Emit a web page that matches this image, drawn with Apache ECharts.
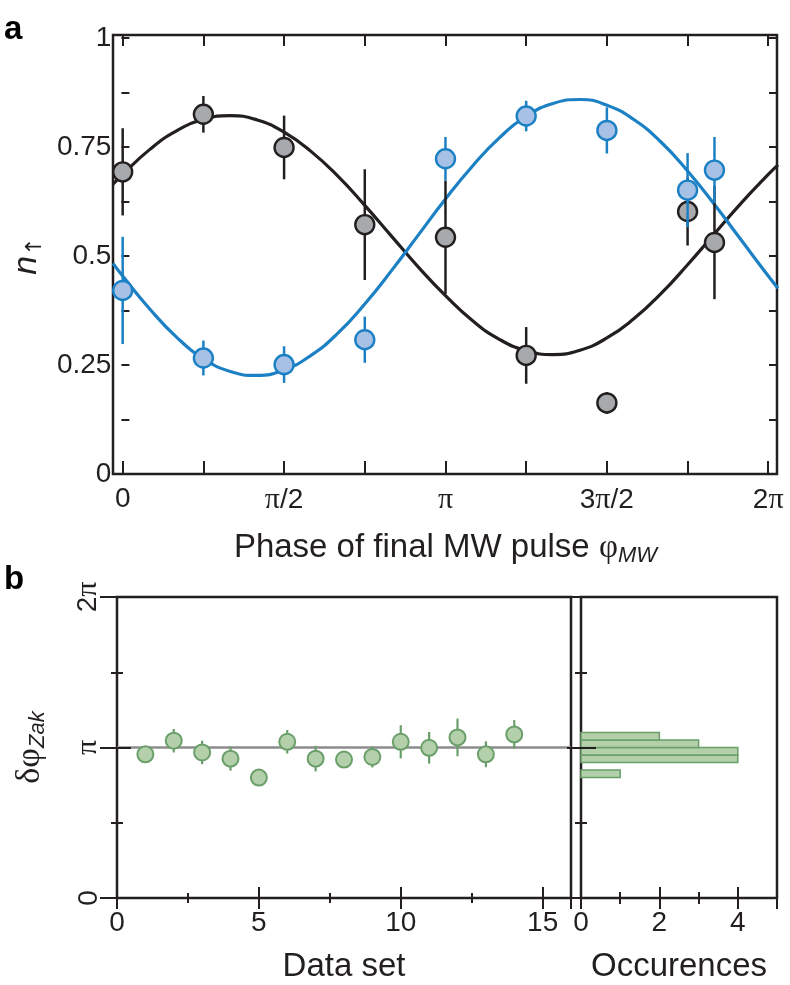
<!DOCTYPE html>
<html>
<head>
<meta charset="utf-8">
<script src="https://cdn.jsdelivr.net/npm/echarts@6.0.0/dist/echarts.min.js"></script>
<style>
  html, body { margin: 0; padding: 0; background: #ffffff; }
  #chart { width: 790px; height: 985px; }
</style>
</head>
<body>
<div id="chart"></div>
<script>
// ---------- Panel a data (phase in units of π) ----------
const phaseA = [0, 0.25, 0.5, 0.75, 1, 1.25, 1.5, 1.75, 1.8333];
const nBlack = [0.693, 0.825, 0.749, 0.572, 0.543, 0.272, 0.163, 0.602, 0.531];
const nBlackErr = [0.100, 0.042, 0.073, 0.127, 0.130, 0.065, 0.025, 0.078, 0.130];
const nBlue = [0.421, 0.266, 0.251, 0.308, 0.723, 0.821, 0.788, 0.651, 0.697];
const nBlueErr = [0.123, 0.040, 0.042, 0.053, 0.050, 0.035, 0.053, 0.085, 0.076];

// fit curves (phase in units of π)
const fitPhase = [-0.03, 0, 0.0833, 0.1667, 0.25, 0.3333, 0.4167, 0.5, 0.5833, 0.6667, 0.75, 0.8333, 0.9167,
  1.0, 1.0833, 1.1667, 1.25, 1.3333, 1.4167, 1.5, 1.5833, 1.6667, 1.75, 1.8333, 1.9167, 2.0, 2.03];
const fitBlack = [0.665, 0.687, 0.744, 0.787, 0.813, 0.822, 0.812, 0.784, 0.740, 0.683, 0.616, 0.545, 0.474,
  0.409, 0.352, 0.309, 0.283, 0.274, 0.284, 0.312, 0.356, 0.413, 0.480, 0.551, 0.622, 0.687, 0.709];
const fitBlue = [0.483, 0.454, 0.379, 0.314, 0.265, 0.235, 0.226, 0.239, 0.272, 0.323, 0.390, 0.467, 0.549,
  0.631, 0.706, 0.771, 0.820, 0.850, 0.859, 0.846, 0.813, 0.762, 0.695, 0.618, 0.536, 0.454, 0.426];

const xTicksA = [0, 0.5, 1, 1.5, 2];
const xTickTextA = ['0', 'π/2', 'π', '3π/2', '2π'];
const yTicksA = [0, 0.25, 0.5, 0.75, 1];
const yTickTextA = ['0', '0.25', '0.5', '0.75', '1'];

// ---------- Panel b data (phase in units of π) ----------
const dataSetIdx = [1, 2, 3, 4, 5, 6, 7, 8, 9, 10, 11, 12, 13, 14];
const zakPhase = [0.955, 1.045, 0.967, 0.926, 0.800, 1.038, 0.926, 0.920, 0.937, 1.038, 0.998, 1.067, 0.955, 1.087];
const zakErr = [0.030, 0.078, 0.078, 0.080, 0.040, 0.078, 0.085, 0.035, 0.070, 0.110, 0.105, 0.125, 0.086, 0.095];
const zakRef = 1; // π

const histBinLo = [0.80, 0.85, 0.90, 0.95, 1.00, 1.05];
const histBinHi = [0.85, 0.90, 0.95, 1.00, 1.05, 1.10];
const histCount = [1, 0, 4, 4, 3, 2];

const xTicksB = [0, 5, 10, 15];
const xTicksHist = [0, 2, 4];
const yTicksB = [0, 1, 2];
const yTickTextB = ['0', 'π', '2π'];

// ---------- styling ----------
const INK = '#231f20';
const BLUE = '#1b80c4';
const SANS = '"Liberation Sans", Arial, Helvetica, sans-serif';
const SERIF = '"Liberation Serif", "Times New Roman", serif';
const GREEN_FILL = '#b3d0ab';
const GREEN_LINE = '#6a9f6a';

function piRich(s) { return s.replace(/π/g, '{p|π}'); }
function labelFrom(ticks, texts) {
  return function (v) {
    for (let i = 0; i < ticks.length; i++) {
      if (Math.abs(v - ticks[i]) < 1e-6) return piRich(texts[i]);
    }
    return '';
  };
}
const tickLabelStyle = {
  color: INK, fontFamily: SANS, fontSize: 28,
  rich: { p: { fontFamily: SERIF, fontSize: 30, color: INK } }
};

function errRender(color, w) {
  return function (params, api) {
    const x = api.value(0), y = api.value(1), e = api.value(2);
    const p1 = api.coord([x, y + e]);
    const p2 = api.coord([x, y - e]);
    return { type: 'line', shape: { x1: p1[0], y1: p1[1], x2: p2[0], y2: p2[1] },
      style: { stroke: color, lineWidth: w } };
  };
}

const tickLine = { color: INK, width: 2 };

const option = {
  animation: false,
  backgroundColor: '#ffffff',
  grid: [
    { left: 113, right: 13, top: 35, bottom: 511, show: true, borderColor: INK, borderWidth: 2.5, backgroundColor: 'transparent' },
    { left: 122.7, right: 21.8, top: 35, bottom: 511 },
    { left: 113, right: 13, top: 38, bottom: 511 },
    { left: 117, right: 219, top: 597, bottom: 87, show: true, borderColor: INK, borderWidth: 2.5, backgroundColor: 'transparent' },
    { left: 581, right: 13, top: 597, bottom: 87, show: true, borderColor: INK, borderWidth: 2.5, backgroundColor: 'transparent' }
  ],
  xAxis: [
    { gridIndex: 0, type: 'value', min: -0.030, max: 2.027, show: false },
    { gridIndex: 1, type: 'value', position: 'bottom', min: 0, max: 2, interval: 0.25, z: 5,
      axisLine: { show: false }, splitLine: { show: false },
      axisTick: { show: true, inside: true, length: 13, lineStyle: tickLine },
      axisLabel: Object.assign({ margin: 11, formatter: labelFrom(xTicksA, xTickTextA) }, tickLabelStyle),
      name: 'Phase of final MW pulse {phi|φ}{sub|MW}', nameLocation: 'middle', nameGap: 55,
      nameTextStyle: { color: INK, fontFamily: SANS, fontSize: 33, lineHeight: 38,
        rich: { phi: { fontFamily: SERIF, fontSize: 33, lineHeight: 38, color: INK },
                sub: { fontFamily: SANS, fontSize: 22, fontStyle: 'italic', lineHeight: 18, verticalAlign: 'bottom', color: INK } } } },
    { gridIndex: 1, type: 'value', position: 'top', min: 0, max: 2, interval: 0.25, z: 5,
      axisLine: { show: false }, splitLine: { show: false },
      axisTick: { show: true, inside: true, length: 11, lineStyle: tickLine },
      axisLabel: { show: false } },
    { gridIndex: 2, type: 'value', min: 0, max: 2, show: false },
    { gridIndex: 3, type: 'value', position: 'bottom', min: 0, max: 16, interval: 5, z: 5,
      axisLine: { show: false }, splitLine: { show: false },
      axisTick: { show: true, inside: true, length: 11, lineStyle: tickLine },
      minorTick: { show: true, splitNumber: 2, length: 5, lineStyle: tickLine },
      axisLabel: Object.assign({ margin: 11, formatter: labelFrom(xTicksB, xTicksB.map(String)) }, tickLabelStyle),
      name: 'Data set', nameLocation: 'middle', nameGap: 52,
      nameTextStyle: { color: INK, fontFamily: SANS, fontSize: 33 } },
    { gridIndex: 3, type: 'value', position: 'top', min: 0, max: 16, interval: 5, z: 5,
      axisLine: { show: false }, splitLine: { show: false },
      axisTick: { show: true, inside: true, length: 11, lineStyle: tickLine },
      minorTick: { show: true, splitNumber: 2, length: 5, lineStyle: tickLine },
      axisLabel: { show: false } },
    { gridIndex: 4, type: 'value', position: 'bottom', min: 0, max: 5, interval: 2, z: 5,
      axisLine: { show: false }, splitLine: { show: false },
      axisTick: { show: true, inside: true, length: 11, lineStyle: tickLine },
      minorTick: { show: true, splitNumber: 2, length: 6, lineStyle: tickLine },
      axisLabel: Object.assign({ margin: 11, formatter: labelFrom(xTicksHist, xTicksHist.map(String)) }, tickLabelStyle),
      name: 'Occurences', nameLocation: 'middle', nameGap: 52,
      nameTextStyle: { color: INK, fontFamily: SANS, fontSize: 33 } },
    { gridIndex: 4, type: 'value', position: 'top', min: 0, max: 5, interval: 2, z: 5,
      axisLine: { show: false }, splitLine: { show: false },
      axisTick: { show: true, inside: true, length: 11, lineStyle: tickLine },
      minorTick: { show: true, splitNumber: 2, length: 6, lineStyle: tickLine },
      axisLabel: { show: false } }
  ],
  yAxis: [
    { gridIndex: 0, type: 'value', min: 0, max: 1.0069, show: false },
    { gridIndex: 1, type: 'value', min: 0, max: 1, show: false },
    { gridIndex: 2, type: 'value', position: 'left', min: 0, max: 1, interval: 0.125, z: 5,
      axisLine: { show: false }, splitLine: { show: false },
      axisTick: { show: true, inside: true, length: 8, lineStyle: tickLine },
      axisLabel: Object.assign({ margin: 10, formatter: labelFrom(yTicksA, yTickTextA) }, tickLabelStyle),
      name: '{n|n}{s|↑}', nameLocation: 'middle', nameRotate: 90, nameGap: 60,
      nameTextStyle: { color: INK, fontFamily: SANS, fontSize: 32, lineHeight: 38,
        rich: { n: { fontFamily: SANS, fontStyle: 'italic', fontSize: 34, lineHeight: 38, color: INK },
                s: { fontFamily: '"DejaVu Sans", sans-serif', fontSize: 22, lineHeight: 20, verticalAlign: 'bottom', color: INK } } } },
    { gridIndex: 2, type: 'value', position: 'right', min: 0, max: 1, interval: 0.125, z: 5,
      axisLine: { show: false }, splitLine: { show: false },
      axisTick: { show: true, inside: true, length: 8, lineStyle: tickLine },
      axisLabel: { show: false } },
    { gridIndex: 3, type: 'value', position: 'left', min: 0, max: 2, interval: 1, z: 5,
      axisLine: { show: false }, splitLine: { show: false },
      axisTick: { show: true, inside: true, length: 14, lineStyle: tickLine },
      minorTick: { show: true, splitNumber: 2, length: 6, lineStyle: tickLine },
      axisLabel: Object.assign({ margin: 14, rotate: 90, formatter: labelFrom(yTicksB, yTickTextB) }, tickLabelStyle),
      name: '{d|δφ}{s|Zak}', nameLocation: 'middle', nameRotate: 90, nameGap: 68,
      nameTextStyle: { color: INK, fontFamily: SANS, fontSize: 32, lineHeight: 38,
        rich: { d: { fontFamily: SERIF, fontSize: 34, lineHeight: 38, color: INK },
                s: { fontFamily: SANS, fontStyle: 'italic', fontSize: 22, lineHeight: 18, verticalAlign: 'bottom', color: INK } } } },
    { gridIndex: 3, type: 'value', position: 'right', min: 0, max: 2, interval: 1, z: 5,
      axisLine: { show: false }, splitLine: { show: false },
      axisTick: { show: true, inside: true, length: 17, lineStyle: tickLine },
      minorTick: { show: true, splitNumber: 2, length: 6, lineStyle: tickLine },
      axisLabel: { show: false } },
    { gridIndex: 4, type: 'value', position: 'left', min: 0, max: 2, interval: 1, z: 5,
      axisLine: { show: false }, splitLine: { show: false },
      axisTick: { show: true, inside: true, length: 15, lineStyle: tickLine },
      minorTick: { show: true, splitNumber: 2, length: 6, lineStyle: tickLine },
      axisLabel: { show: false } },
    { gridIndex: 4, type: 'value', position: 'right', min: 0, max: 2, interval: 1, z: 5,
      axisLine: { show: false }, splitLine: { show: false },
      axisTick: { show: true, inside: true, length: 14, lineStyle: tickLine },
      minorTick: { show: true, splitNumber: 2, length: 6, lineStyle: tickLine },
      axisLabel: { show: false } }
  ],
  graphic: [
    { type: 'text', left: 4, top: 13, style: { text: 'a', fontFamily: SANS, fontWeight: 'bold', fontSize: 33, fill: '#000' } },
    { type: 'text', left: 4, top: 563, style: { text: 'b', fontFamily: SANS, fontWeight: 'bold', fontSize: 33, fill: '#000' } }
  ],
  series: [
    { type: 'line', name: 'fit black', xAxisIndex: 0, yAxisIndex: 0, smooth: true, showSymbol: false, z: 2,
      data: fitPhase.map((x, i) => [x, fitBlack[i]]), lineStyle: { color: INK, width: 3.2 }, silent: true },
    { type: 'line', name: 'fit blue', xAxisIndex: 0, yAxisIndex: 0, smooth: true, showSymbol: false, z: 3,
      data: fitPhase.map((x, i) => [x, fitBlue[i]]), lineStyle: { color: BLUE, width: 3.2 }, silent: true },
    { type: 'custom', name: 'black err', xAxisIndex: 0, yAxisIndex: 0, z: 4, renderItem: errRender(INK, 2.5),
      encode: { x: 0, y: 1 }, data: phaseA.map((x, i) => [x, nBlack[i], nBlackErr[i]]) },
    { type: 'scatter', name: 'black', xAxisIndex: 0, yAxisIndex: 0, z: 5, symbolSize: 19,
      itemStyle: { color: '#a7a9ac', borderColor: INK, borderWidth: 2.4, opacity: 1 },
      data: phaseA.map((x, i) => [x, nBlack[i]]) },
    { type: 'custom', name: 'blue err', xAxisIndex: 0, yAxisIndex: 0, z: 6, renderItem: errRender(BLUE, 2.5),
      encode: { x: 0, y: 1 }, data: phaseA.map((x, i) => [x, nBlue[i], nBlueErr[i]]) },
    { type: 'scatter', name: 'blue', xAxisIndex: 0, yAxisIndex: 0, z: 7, symbolSize: 19,
      itemStyle: { color: '#a6c1e5', borderColor: BLUE, borderWidth: 2.4, opacity: 1 },
      data: phaseA.map((x, i) => [x, nBlue[i]]) },
    { type: 'custom', name: 'zak err', xAxisIndex: 4, yAxisIndex: 4, z: 4, renderItem: errRender(GREEN_LINE, 2.2),
      encode: { x: 0, y: 1 }, data: dataSetIdx.map((x, i) => [x, zakPhase[i], zakErr[i]]),
      markLine: { silent: true, symbol: 'none', label: { show: false }, z: 1,
        lineStyle: { color: '#8c8c8c', width: 2.5, type: 'solid' }, data: [{ yAxis: zakRef }] } },
    { type: 'scatter', name: 'zak', xAxisIndex: 4, yAxisIndex: 4, z: 5, symbolSize: 16,
      itemStyle: { color: GREEN_FILL, borderColor: GREEN_LINE, borderWidth: 2, opacity: 1 },
      data: dataSetIdx.map((x, i) => [x, zakPhase[i]]) },
    { type: 'custom', name: 'hist', xAxisIndex: 6, yAxisIndex: 6, z: 2,
      encode: { x: 2, y: 0 },
      data: histBinLo.map((lo, i) => [lo, histBinHi[i], histCount[i]]),
      renderItem: function (params, api) {
        const lo = api.value(0), hi = api.value(1), c = api.value(2);
        if (!c) return null;
        const a = api.coord([0, hi]);
        const b = api.coord([c, lo]);
        return { type: 'rect', shape: { x: a[0], y: a[1], width: b[0] - a[0], height: b[1] - a[1] },
          style: { fill: GREEN_FILL, stroke: GREEN_LINE, lineWidth: 1.5 } };
      } }
  ]
};

const chart = echarts.init(document.getElementById('chart'), null, { renderer: 'canvas' });
chart.setOption(option);
</script>
</body>
</html>
